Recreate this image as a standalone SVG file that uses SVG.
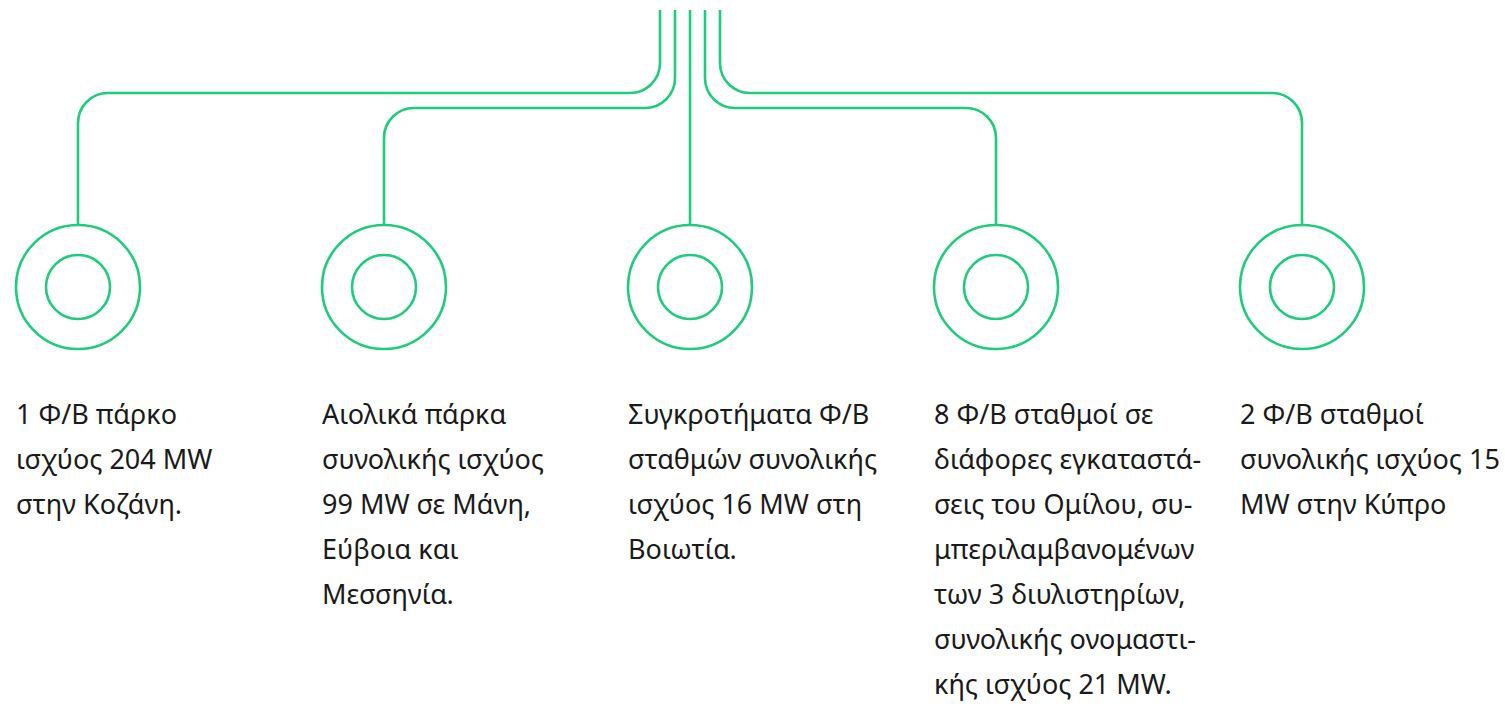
<svg xmlns="http://www.w3.org/2000/svg" width="1505" height="704" viewBox="0 0 1505 704">
<style>
.ln{fill:none;stroke:#1fcc7d;stroke-width:2.6}
.c{fill:none;stroke:#1fcc7d;stroke-width:2.6}
.t{font-family:"Noto Sans",sans-serif;font-size:27px;fill:#1a1a1a}
</style>
<rect width="1505" height="704" fill="#fff"/>
<g id="connectors">
<path class="ln" d="M660 10 V63 A30 30 0 0 1 630 93 H108 A30 30 0 0 0 78 123 V225"/>
<path class="ln" d="M675 10 V78 A30 30 0 0 1 645 108 H414 A30 30 0 0 0 384 138 V225"/>
<path class="ln" d="M690 10 V225"/>
<path class="ln" d="M705 10 V78 A30 30 0 0 0 735 108 H966 A30 30 0 0 1 996 138 V225"/>
<path class="ln" d="M720 10 V63 A30 30 0 0 0 750 93 H1272 A30 30 0 0 1 1302 123 V225"/>
</g>
<g id="node1">
<circle class="c" cx="78" cy="287" r="62"/><circle class="c" cx="78" cy="287" r="32"/>
<text class="t" x="16" y="424"><tspan x="16">1 Φ/B πάρκο</tspan><tspan x="16" dy="45">ισχύος 204 MW</tspan><tspan x="16" dy="45">στην Κοζάνη.</tspan></text>
</g>
<g id="node2">
<circle class="c" cx="384" cy="287" r="62"/><circle class="c" cx="384" cy="287" r="32"/>
<text class="t" x="322" y="424"><tspan x="322">Αιολικά πάρκα</tspan><tspan x="322" dy="45">συνολικής ισχύος</tspan><tspan x="322" dy="45">99 MW σε Μάνη,</tspan><tspan x="322" dy="45">Εύβοια και</tspan><tspan x="322" dy="45">Μεσσηνία.</tspan></text>
</g>
<g id="node3">
<circle class="c" cx="690" cy="287" r="62"/><circle class="c" cx="690" cy="287" r="32"/>
<text class="t" x="628" y="424"><tspan x="628">Συγκροτήματα Φ/B</tspan><tspan x="628" dy="45">σταθμών συνολικής</tspan><tspan x="628" dy="45">ισχύος 16 MW στη</tspan><tspan x="628" dy="45">Βοιωτία.</tspan></text>
</g>
<g id="node4">
<circle class="c" cx="996" cy="287" r="62"/><circle class="c" cx="996" cy="287" r="32"/>
<text class="t" x="934" y="424"><tspan x="934">8 Φ/B σταθμοί σε</tspan><tspan x="934" dy="45">διάφορες εγκαταστά-</tspan><tspan x="934" dy="45">σεις του Ομίλου, συ-</tspan><tspan x="934" dy="45">μπεριλαμβανομένων</tspan><tspan x="934" dy="45">των 3 διυλιστηρίων,</tspan><tspan x="934" dy="45">συνολικής ονομαστι-</tspan><tspan x="934" dy="45">κής ισχύος 21 MW.</tspan></text>
</g>
<g id="node5">
<circle class="c" cx="1302" cy="287" r="62"/><circle class="c" cx="1302" cy="287" r="32"/>
<text class="t" x="1240" y="424"><tspan x="1240">2 Φ/B σταθμοί</tspan><tspan x="1240" dy="45">συνολικής ισχύος 15</tspan><tspan x="1240" dy="45">MW στην Κύπρο</tspan></text>
</g>
</svg>
